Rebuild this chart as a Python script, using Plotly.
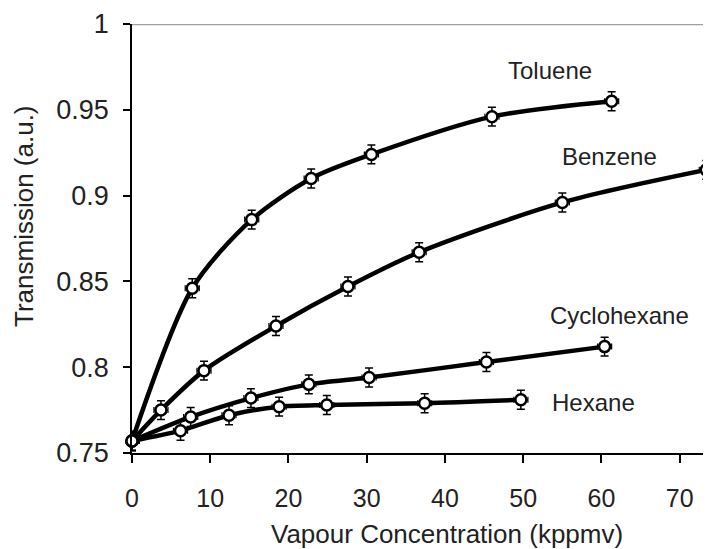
import plotly.graph_objects as go

# Vapour concentration (kppmv) and transmission (a.u.) per solvent
toluene_x = [0, 7.7, 15.3, 22.9, 30.6, 46.0, 61.3]
toluene_y = [0.757, 0.846, 0.886, 0.910, 0.924, 0.946, 0.955]

benzene_x = [0, 3.7, 9.2, 18.4, 27.6, 36.7, 55.0, 73.4]
benzene_y = [0.757, 0.775, 0.798, 0.824, 0.847, 0.867, 0.896, 0.915]

cyclohexane_x = [0, 7.5, 15.2, 22.6, 30.3, 45.3, 60.4]
cyclohexane_y = [0.757, 0.771, 0.782, 0.790, 0.794, 0.803, 0.812]

hexane_x = [0, 6.2, 12.4, 18.8, 24.9, 37.4, 49.7]
hexane_y = [0.757, 0.763, 0.772, 0.777, 0.778, 0.779, 0.781]

y_err = 0.0055
x_err = 0.9

SERIES = [
    ('Toluene', toluene_x, toluene_y, 53.4, 0.973, 'center'),
    ('Benzene', benzene_x, benzene_y, 61.0, 0.9225, 'center'),
    ('Cyclohexane', cyclohexane_x, cyclohexane_y, 62.3, 0.8304, 'center'),
    ('Hexane', hexane_x, hexane_y, 53.4, 0.7797, 'left'),
]

FONT = 'Liberation Sans, Arial, sans-serif'
TEXT = '#222'

fig = go.Figure()

for name, xs, ys, lx, ly, anchor in SERIES:
    fig.add_trace(go.Scatter(
        x=xs, y=ys, name=name,
        mode='lines+markers',
        line=dict(color='black', width=4.5, shape='spline', smoothing=0.8),
        marker=dict(symbol='circle', size=11, color='white',
                    line=dict(color='black', width=2.5)),
        error_y=dict(type='constant', value=y_err, color='black',
                     thickness=1.5, width=4),
        error_x=dict(type='constant', value=x_err, color='black',
                     thickness=1.2, width=3),
        cliponaxis=False,
    ))
    fig.add_annotation(x=lx, y=ly, text=name, showarrow=False,
                       xanchor=anchor, yanchor='middle',
                       font=dict(size=24, color=TEXT))

# gray top border line
fig.add_shape(type='line', xref='paper', yref='y', x0=0, x1=1, y0=1, y1=1,
              line=dict(color='#a0a0a0', width=2.5))

# axis titles placed by hand (they sit off-centre in the original)
fig.add_annotation(xref='paper', yref='paper', x=(447 - 132) / 579, y=-(534 - 453) / 429,
                   text='Vapour Concentration (kppmv)', showarrow=False,
                   xanchor='center', yanchor='middle', font=dict(size=26, color=TEXT))
fig.add_annotation(xref='paper', yref='paper', x=-(132 - 24) / 579, y=(453 - 216) / 429,
                   text='Transmission (a.u.)', showarrow=False, textangle=-90,
                   xanchor='center', yanchor='middle', font=dict(size=26, color=TEXT))

# page body adds an 8px offset, so the figure is 8px smaller each way
fig.update_layout(
    width=703, height=541,
    paper_bgcolor='white', plot_bgcolor='white',
    font=dict(family=FONT, color=TEXT, size=24),
    margin=dict(l=124, r=0, t=16, b=96),
    showlegend=False,
)
fig.update_xaxes(
    range=[0, 74], tickvals=[0, 10, 20, 30, 40, 50, 60, 70],
    showgrid=False, zeroline=False, automargin=False,
    showline=True, linecolor='black', linewidth=1.5,
    ticks='outside', ticklen=8, tickcolor='black', tickwidth=1.5,
    tickfont=dict(size=25), ticklabelstandoff=14,
)
fig.update_yaxes(
    range=[0.75, 1.0], tickvals=[0.75, 0.8, 0.85, 0.9, 0.95, 1],
    ticktext=['0.75', '0.8', '0.85', '0.9', '0.95', '1'],
    showgrid=False, zeroline=False, automargin=False,
    showline=True, linecolor='black', linewidth=1.5,
    ticks='outside', ticklen=7, tickcolor='black', tickwidth=1.5,
    tickfont=dict(size=27), ticklabelstandoff=9,
)

fig.write_html("out.html")
